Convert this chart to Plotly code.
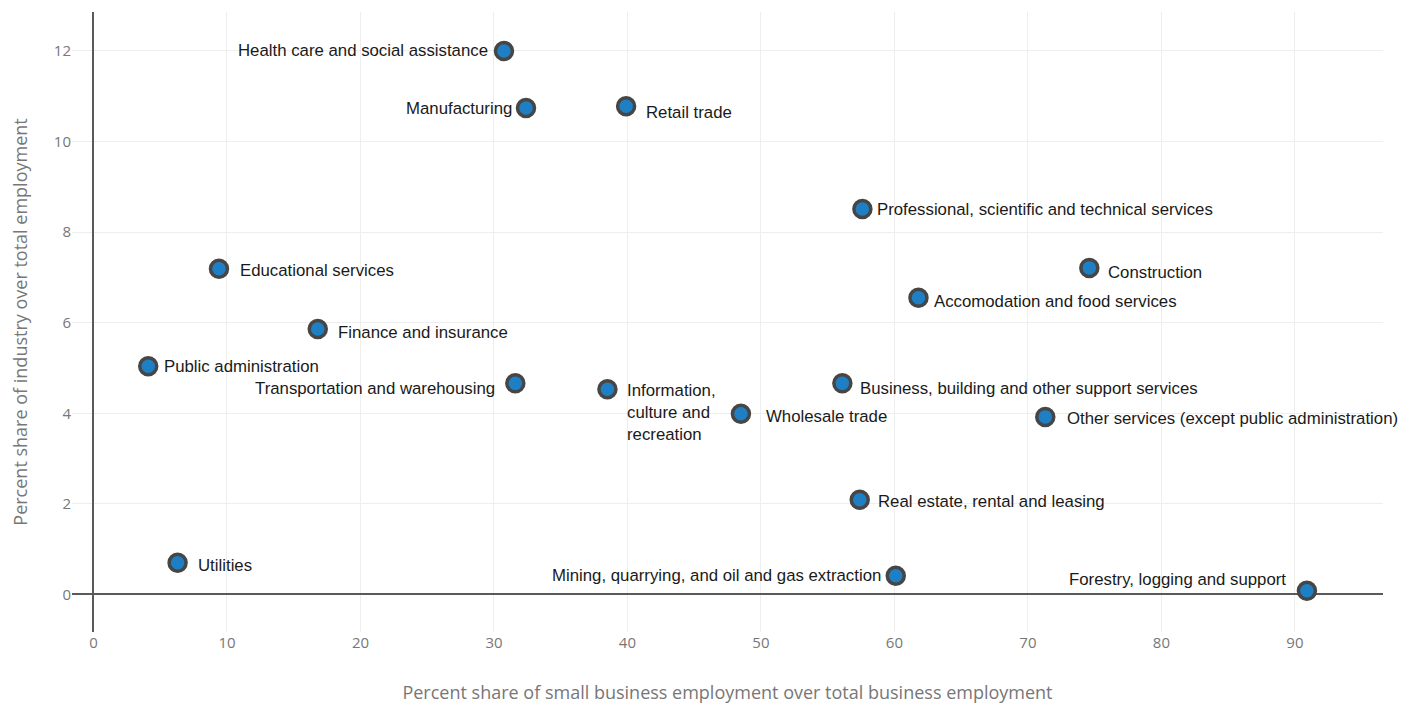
import plotly.graph_objects as go

industries = [
    "Health care and social assistance", "Manufacturing", "Retail trade",
    "Professional, scientific and technical services", "Construction",
    "Accomodation and food services", "Educational services", "Finance and insurance",
    "Public administration", "Transportation and warehousing",
    "Information,<br>culture and<br>recreation", "Wholesale trade",
    "Business, building and other support services",
    "Other services (except public administration)",
    "Real estate, rental and leasing", "Utilities",
    "Mining, quarrying, and oil and gas extraction", "Forestry, logging and support",
]
small_biz_share = [30.75, 32.4, 39.9, 57.6, 74.6, 61.8, 9.4, 16.8, 4.1, 31.6,
                   38.5, 48.5, 56.1, 71.3, 57.4, 6.3, 60.1, 90.9]
industry_share = [12.0, 10.74, 10.78, 8.51, 7.21, 6.55, 7.19, 5.86, 5.04, 4.66,
                  4.53, 3.99, 4.66, 3.92, 2.09, 0.70, 0.41, 0.08]

# label placement styles: (side, x shift px, y shift px)
label_style = [
    ("left", -14, 0), ("left", -12, 0), ("right", 18, -6), ("right", 13, 0),
    ("right", 17, -5), ("right", 14, -4), ("right", 19, -2), ("right", 18, -3),
    ("right", 14, 0), ("left", -18, -5), ("right_top", 18, 10), ("right", 23, -3),
    ("right", 16, -5), ("right", 20, -2), ("right", 16, -2), ("right", 18, -3),
    ("left", -13, 0), ("left", -19, 11),
]

fig = go.Figure()
fig.add_trace(go.Scatter(
    x=small_biz_share, y=industry_share, mode="markers",
    marker=dict(size=17, color="#1f7fc4", line=dict(color="#464646", width=3.5)),
    hoverinfo="skip", showlegend=False,
))

annotations = []
for name, xv, yv, (side, dx, dy) in zip(industries, small_biz_share, industry_share, label_style):
    a = dict(x=xv, y=yv, text=name, showarrow=False, xshift=dx, yshift=dy,
             font=dict(family="Arial", size=16.8, color="#1a1a1a"), align="left")
    if side == "left":
        a.update(xanchor="right", yanchor="middle")
    elif side == "right":
        a.update(xanchor="left", yanchor="middle")
    else:
        a.update(xanchor="left", yanchor="top")
    annotations.append(a)

fig.update_layout(
    width=1406, height=697,
    margin=dict(l=64, r=31, t=4, b=73),
    paper_bgcolor="white", plot_bgcolor="white",
    annotations=annotations,
    font=dict(family="Open Sans", color="#666666"),
    xaxis=dict(
        range=[-1.61, 96.6], dtick=10, tick0=0, automargin=False,
        showgrid=True, gridcolor="#eeeeee", gridwidth=1,
        zeroline=True, zerolinecolor="#5a5a5a", zerolinewidth=1.5,
        showline=False, ticks="",
        tickfont=dict(family="Open Sans", size=15, color="#777777"),
        title=dict(text="Percent share of small business employment over total business employment",
                   font=dict(family="Open Sans", size=18, color="#777777"), standoff=35),
    ),
    yaxis=dict(
        range=[-0.83, 12.86], dtick=2, tick0=0, automargin=False,
        showgrid=True, gridcolor="#eeeeee", gridwidth=1,
        zeroline=True, zerolinecolor="#5a5a5a", zerolinewidth=1.5,
        showline=False, ticks="",
        tickfont=dict(family="Open Sans", size=15, color="#777777"),
        title=dict(text="Percent share of industry over total employment",
                   font=dict(family="Open Sans", size=18, color="#777777"), standoff=28),
    ),
)

fig.write_html("out.html")
